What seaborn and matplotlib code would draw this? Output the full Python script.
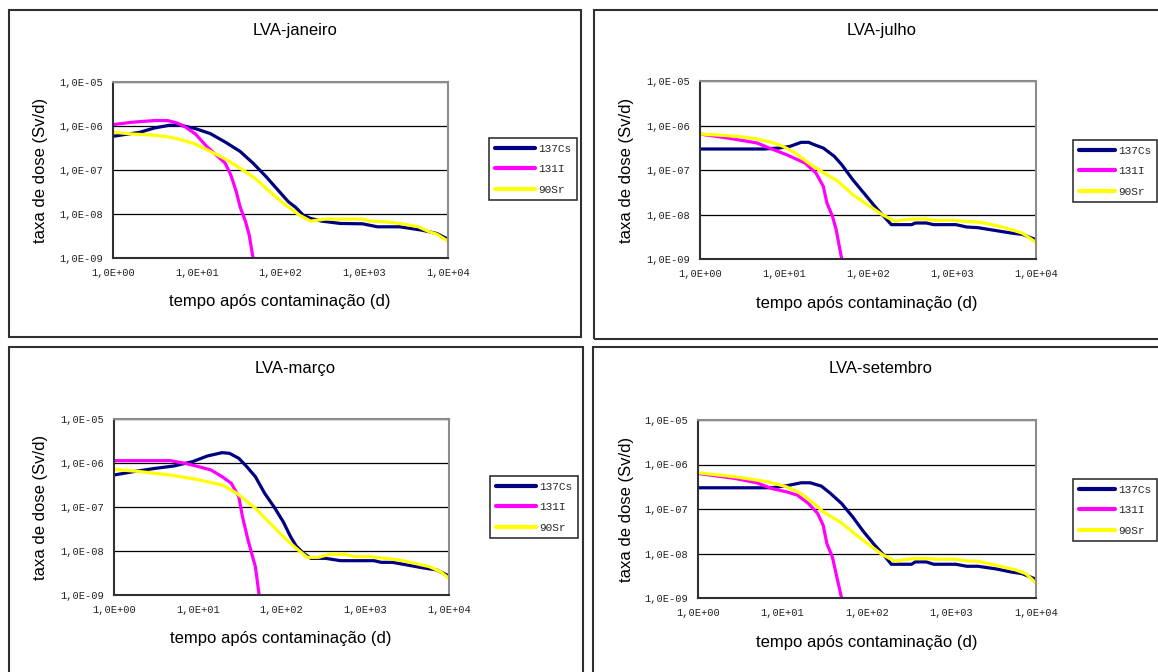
import numpy as np
import pandas as pd
import matplotlib
matplotlib.use("Agg")
import matplotlib.pyplot as plt
import seaborn as sns
from matplotlib.patches import Rectangle
from matplotlib.lines import Line2D
from matplotlib.ticker import FixedLocator, FuncFormatter, NullLocator

sns.set_theme(style="white")
plt.rcParams['font.family'] = ['Liberation Sans', 'DejaVu Sans']

# ---------------- data ----------------
nuclides = ["137Cs", "131I", "90Sr"]
colors = {"137Cs": "#000080", "131I": "#FF00FF", "90Sr": "#FFFF00"}
titles = ["LVA-janeiro", "LVA-julho", "LVA-março", "LVA-setembro"]
xlabel = "tempo após contaminação (d)"
ylabel = "taxa de dose (Sv/d)"
xticks = [1e0, 1e1, 1e2, 1e3, 1e4]
yticks = [1e-9, 1e-8, 1e-7, 1e-6, 1e-5]

# values, as log10(time in d) and log10(dose rate in Sv/d)
jan_cs_logt = [0, 0.319, 0.497, 0.674, 0.807, 0.984, 1.162, 1.339, 1.517, 1.672, 1.827, 2.004, 2.093, 2.182,
               2.271, 2.359, 2.492, 2.714, 2.980, 3.157, 3.424, 3.690, 3.867, 4.0]
jan_cs_logd = [-6.234, -6.143, -6.044, -5.983, -5.983, -6.059, -6.173, -6.364, -6.577, -6.844, -7.149, -7.530,
               -7.720, -7.850, -8.025, -8.101, -8.162, -8.215, -8.223, -8.291, -8.291, -8.368, -8.444, -8.573]
jan_i_logt = [0, 0.231, 0.497, 0.652, 0.763, 0.851, 0.984, 1.118, 1.251, 1.339, 1.406, 1.472, 1.517, 1.583, 1.627, 1.672]
jan_i_logd = [-5.968, -5.914, -5.876, -5.876, -5.930, -6.006, -6.181, -6.463, -6.691, -6.844, -7.110, -7.491,
              -7.834, -8.177, -8.482, -9.0]
jan_sr_logt = [0, 0.231, 0.497, 0.674, 0.851, 0.984, 1.162, 1.339, 1.517, 1.694, 1.872, 2.049, 2.226, 2.359,
               2.537, 2.759, 2.980, 3.069, 3.246, 3.424, 3.646, 3.779, 3.867, 4.0]
jan_sr_logd = [-6.143, -6.181, -6.211, -6.250, -6.333, -6.410, -6.577, -6.745, -6.958, -7.187, -7.491, -7.781,
               -8.025, -8.162, -8.116, -8.116, -8.116, -8.162, -8.177, -8.215, -8.291, -8.406, -8.459, -8.619]

jul_cs_logt = [0, 0.767, 0.942, 1.073, 1.205, 1.292, 1.380, 1.468, 1.599, 1.687, 1.818, 1.950, 2.081, 2.169,
               2.278, 2.388, 2.519, 2.563, 2.694, 2.782, 3.045, 3.176, 3.308, 3.527, 3.702, 3.834, 4.0]
jul_cs_logd = [-6.528, -6.528, -6.506, -6.468, -6.378, -6.378, -6.446, -6.506, -6.693, -6.880, -7.217, -7.517,
               -7.816, -8.004, -8.228, -8.228, -8.228, -8.191, -8.191, -8.228, -8.228, -8.281, -8.296, -8.363,
               -8.416, -8.446, -8.566]
jul_i_logt = [0, 0.329, 0.679, 0.854, 1.029, 1.249, 1.380, 1.468, 1.511, 1.577, 1.621, 1.687]
jul_i_logd = [-6.191, -6.281, -6.393, -6.528, -6.655, -6.843, -7.067, -7.367, -7.742, -8.041, -8.341, -9.0]
jul_sr_logt = [0, 0.329, 0.548, 0.679, 0.854, 0.986, 1.117, 1.292, 1.424, 1.643, 1.818, 1.993, 2.169, 2.322,
               2.431, 2.563, 2.694, 2.782, 3.045, 3.133, 3.308, 3.440, 3.615, 3.834, 4.0]
jul_sr_logd = [-6.191, -6.228, -6.266, -6.303, -6.378, -6.468, -6.596, -6.843, -7.007, -7.255, -7.554, -7.779,
               -8.004, -8.154, -8.116, -8.101, -8.101, -8.131, -8.131, -8.154, -8.169, -8.213, -8.288, -8.416, -8.625]

mar_cs_logt = [0, 0.230, 0.495, 0.716, 0.937, 1.114, 1.291, 1.379, 1.490, 1.578, 1.688, 1.799, 1.909, 2.020,
               2.108, 2.175, 2.263, 2.351, 2.528, 2.705, 2.970, 3.103, 3.191, 3.324, 3.501, 3.677, 3.854, 4.0]
mar_cs_logd = [-6.273, -6.197, -6.121, -6.068, -5.970, -5.841, -5.765, -5.780, -5.894, -6.068, -6.311, -6.689,
               -6.992, -7.333, -7.674, -7.886, -8.053, -8.167, -8.167, -8.220, -8.220, -8.220, -8.258, -8.258,
               -8.318, -8.379, -8.432, -8.568]
mar_i_logt = [0, 0.672, 0.849, 0.981, 1.158, 1.291, 1.401, 1.490, 1.534, 1.600, 1.688, 1.733]
mar_i_logd = [-5.947, -5.947, -6.008, -6.068, -6.159, -6.311, -6.462, -6.765, -7.220, -7.750, -8.356, -9.0]
mar_sr_logt = [0, 0.318, 0.672, 0.981, 1.291, 1.467, 1.688, 1.865, 2.042, 2.175, 2.307, 2.440, 2.573, 2.749,
               2.882, 3.059, 3.236, 3.412, 3.589, 3.766, 3.898, 4.0]
mar_sr_logd = [-6.144, -6.197, -6.273, -6.371, -6.500, -6.689, -7.030, -7.371, -7.712, -7.939, -8.144, -8.144,
               -8.076, -8.076, -8.129, -8.129, -8.167, -8.205, -8.280, -8.356, -8.470, -8.621]

set_cs_logt = [0, 0.871, 1.046, 1.220, 1.329, 1.460, 1.569, 1.699, 1.830, 1.961, 2.092, 2.200, 2.288, 2.527,
               2.571, 2.702, 2.789, 3.050, 3.181, 3.312, 3.529, 3.704, 3.834, 4.0]
set_cs_logd = [-6.523, -6.523, -6.478, -6.411, -6.411, -6.486, -6.651, -6.876, -7.176, -7.514, -7.814, -8.039,
               -8.242, -8.242, -8.189, -8.189, -8.242, -8.242, -8.287, -8.287, -8.347, -8.415, -8.452, -8.580]
set_i_logt = [0, 0.436, 0.697, 0.871, 1.046, 1.176, 1.307, 1.416, 1.481, 1.525, 1.590, 1.634, 1.699]
set_i_logd = [-6.201, -6.313, -6.411, -6.538, -6.614, -6.689, -6.876, -7.101, -7.364, -7.777, -8.077, -8.452, -9.0]
set_sr_logt = [0, 0.436, 0.828, 1.046, 1.220, 1.394, 1.481, 1.699, 1.874, 2.048, 2.179, 2.331, 2.440, 2.571,
               2.702, 2.832, 3.050, 3.181, 3.312, 3.529, 3.747, 3.878, 4.0]
set_sr_logd = [-6.186, -6.276, -6.388, -6.501, -6.651, -6.914, -7.064, -7.311, -7.589, -7.837, -8.024, -8.174,
               -8.137, -8.114, -8.114, -8.129, -8.129, -8.167, -8.174, -8.265, -8.362, -8.452, -8.662]

panels = [
    [(jan_cs_logt, jan_cs_logd), (jan_i_logt, jan_i_logd), (jan_sr_logt, jan_sr_logd)],
    [(jul_cs_logt, jul_cs_logd), (jul_i_logt, jul_i_logd), (jul_sr_logt, jul_sr_logd)],
    [(mar_cs_logt, mar_cs_logd), (mar_i_logt, mar_i_logd), (mar_sr_logt, mar_sr_logd)],
    [(set_cs_logt, set_cs_logd), (set_i_logt, set_i_logd), (set_sr_logt, set_sr_logd)],
]

# ---------------- layout (pixels) ----------------
W, H = 1158, 672
fig = plt.figure(figsize=(W / 100, H / 100), dpi=100)
fig.patch.set_facecolor("white")

def fx(x):
    return x / W

def fy(y):
    return 1 - y / H

# chart boxes: left, top, right, bottom
boxes = [(8.5, 9.5, 581.5, 336.5), (594, 9.5, 1170, 339), (8.5, 347, 583, 700), (593, 347, 1170, 700)]
# plot areas: left, top, right, bottom
plots = [(113, 82, 448, 258), (700, 81, 1036, 259), (114, 419, 449, 595), (698, 420, 1036, 598)]
title_pos = [(295, 31), (882, 31), (295, 368), (881, 368)]
xlab_pos = [(280, 301), (867, 303), (281, 639), (867, 643)]
ylab_x = [41, 626, 41, 626]
legend_pos = [(489, 138), (1073, 140), (490, 476), (1073, 479)]
legend_hlen = [3.6, 3.3, 3.6, 3.3]

for (l, t, r, b) in boxes:
    fig.patches.append(Rectangle((fx(l), fy(b)), fx(r - l), (b - t) / H, transform=fig.transFigure,
                                 fill=False, edgecolor="#303030", linewidth=1.5, clip_on=False))

def fmt(v, pos):
    e = int(round(np.log10(v)))
    return f"1,0E{e:+03d}"

mono = "Liberation Mono"

for i in range(4):
    l, t, r, b = plots[i]
    ax = fig.add_axes([fx(l), fy(b), (r - l) / W, (b - t) / H])
    ax.set_facecolor("white")
    rows = []
    for name, (lt, ld) in zip(nuclides, panels[i]):
        for a, c in zip(lt, ld):
            rows.append({"t": 10 ** a, "dose": 10 ** c, "nuc": name})
    df = pd.DataFrame(rows)
    sns.lineplot(data=df, x="t", y="dose", hue="nuc", hue_order=nuclides, palette=colors,
                 estimator=None, sort=False, linewidth=2.3, legend=False, ax=ax)
    ax.set_xscale("log")
    ax.set_yscale("log")
    ax.set_xlim(1, 1e4)
    ax.set_ylim(1e-9, 1e-5)
    ax.xaxis.set_major_locator(FixedLocator(xticks))
    ax.yaxis.set_major_locator(FixedLocator(yticks))
    ax.xaxis.set_minor_locator(NullLocator())
    ax.yaxis.set_minor_locator(NullLocator())
    ax.xaxis.set_major_formatter(FuncFormatter(fmt))
    ax.yaxis.set_major_formatter(FuncFormatter(fmt))
    ax.yaxis.grid(True, color="black", linewidth=0.9)
    ax.xaxis.grid(False)
    ax.set_axisbelow(True)
    for s in ["left", "bottom"]:
        ax.spines[s].set_color("#303030")
        ax.spines[s].set_linewidth(1.5)
    for s in ["top", "right"]:
        ax.spines[s].set_color("#8c8c8c")
        ax.spines[s].set_linewidth(1.5)
    ax.tick_params(axis="both", which="major", direction="out", length=3, width=1.2,
                   color="#303030", pad=4, labelsize=7.5, labelcolor="#222222")
    for lab in ax.get_xticklabels() + ax.get_yticklabels():
        lab.set_family(mono)
    ax.set_xlabel("")
    ax.set_ylabel("")

    fig.text(fx(title_pos[i][0]), fy(title_pos[i][1]), titles[i], ha="center", va="center",
             fontsize=12, color="black")
    fig.text(fx(xlab_pos[i][0]), fy(xlab_pos[i][1]), xlabel, ha="center", va="center",
             fontsize=12, color="black")
    fig.text(fx(ylab_x[i]), fy((t + b) / 2), ylabel, ha="center", va="center", rotation=90,
             fontsize=12, color="black")

    handles = [Line2D([], [], color=colors[n], linewidth=3) for n in nuclides]
    lx, ly = legend_pos[i]
    leg = ax.legend(handles, nuclides, loc="upper left", bbox_to_anchor=(fx(lx), fy(ly)),
                    bbox_transform=fig.transFigure, borderaxespad=0, frameon=True, fancybox=False,
                    handlelength=legend_hlen[i], handletextpad=0.3, labelspacing=0.95, borderpad=0.5,
                    prop={"family": mono, "size": 8})
    leg.get_frame().set_edgecolor("black")
    leg.get_frame().set_linewidth(1.2)
    leg.get_frame().set_facecolor("white")
    leg.set_clip_on(False)

fig.savefig("out.png", dpi=100, facecolor="white")
